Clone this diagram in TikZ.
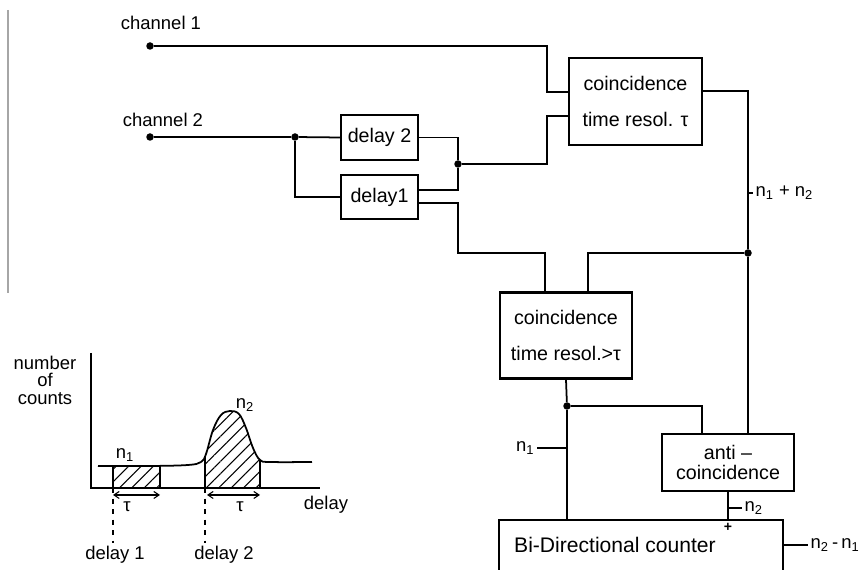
\documentclass[tikz,border=0pt]{standalone}
\usepackage{fontspec}
\setmainfont{Liberation Sans}
\usetikzlibrary{arrows.meta,calc,patterns.meta}
\newcommand{\countcurve}{plot[smooth,tension=0.6] coordinates {(98,466) (150,466)
  (188,465) (201,462) (206,454) (213,430) (221,415) (230,411) (239,414) (246,428)
  (253,448) (260,460) (270,462) (312,462)}}

\begin{document}
\begin{tikzpicture}[
    x=0.02cm, y=-0.02cm,
    >={Straight Barb[length=3pt,width=4pt]},
    font=\fontsize{10.5}{12.5}\selectfont,
    unit/.style={draw,line width=1.2pt,inner sep=0pt,align=center,
      font=\fontsize{11.2}{13}\selectfont},
    wire/.style={line width=1pt},
    dot/.style={circle,fill,inner sep=0pt,minimum size=0.15cm},
    lbl/.style={inner sep=1pt},
    hatched/.style={pattern={Lines[angle=45,distance=5pt,line width=0.6pt]}}
  ]
  \useasboundingbox (0,0) rectangle (863,570);
  \draw[gray!70,line width=0.8pt] (8,10) -- (8,293);

  % inputs
  \node[dot] (ch1) at (150,46) {};
  \node[dot] (ch2) at (150,137) {};
  \node (ch1lbl) at (161,23) {channel 1};
  \node (ch2lbl) at (163,120) {channel 2};

  % units
  \node[unit,minimum width=2.66cm,minimum height=1.74cm] (coinc1) at (635.5,101.5)
    {coincidence\\[7pt]time resol. τ};
  \node[unit,minimum width=1.54cm,minimum height=0.9cm] (delay2) at (379.5,137.5) {delay 2};
  \node[unit,minimum width=1.54cm,minimum height=0.88cm] (delay1) at (379.5,197) {delay1};
  \node[unit,minimum width=2.64cm,minimum height=1.72cm] (coinc2) at (566,335.5)
    {coincidence\\[8pt]time resol.>τ};
  \node[unit,minimum width=2.64cm,minimum height=1.14cm] (anti) at (728,462.5)
    {anti –\\[-2pt]coincidence};
  \node[unit,minimum width=5.68cm,minimum height=1.7cm,anchor=north] (counter) at (641,519) {};
  \node[font=\fontsize{12}{14}\selectfont] (countertxt) at (615,545) {Bi-Directional counter};

  % junctions and ports
  \node[dot] (j2) at (295,137) {};
  \node[dot] (j3) at (458,164) {};
  \node[dot] (j4) at (748,253) {};
  \node[dot] (j5) at (567,406) {};
  \coordinate (c1a) at ($(coinc1.west)+(0,-9.5)$);
  \coordinate (c1b) at ($(coinc1.west)+(0,14.5)$);
  \coordinate (c1out) at ($(coinc1.east)+(0,-10.5)$);
  \coordinate (d1a) at ($(delay1.east)+(0,-7)$);
  \coordinate (d1b) at ($(delay1.east)+(0,6)$);
  \coordinate (c2a) at ($(coinc2.north)+(-21,0)$);
  \coordinate (c2b) at ($(coinc2.north)+(22,0)$);
  \coordinate (aa) at ($(anti.north)+(-26,0)$);

  % wiring
  \draw[wire] (ch1) -- (547,46) |- (c1a);
  \draw[wire] (ch2) -- (j2) -- (delay2.west);
  \draw[wire] (j2) |- (delay1.west);
  \draw[wire] (delay2.east) -| (j3) |- (d1a);
  \draw[wire] (j3) -- (547,164) |- (c1b);
  \draw[wire] (d1b) -| (458,253) -| (c2a);
  \draw[wire] (c1out) -| (j4);
  \draw[wire] (j4) -- (j4 |- anti.north);
  \draw[wire] (j4) -| (c2b);
  \draw[wire] (coinc2.south) -- (j5);
  \draw[wire] (j5) -- (j5 |- counter.north);
  \draw[wire] (j5) -| (aa);
  \draw[wire] (anti.south) -- (anti.south |- counter.north);

  % signal labels
  \draw[wire] (748,193) -- ++(5,0) node[right,lbl] (sumlbl) {n\textsubscript{1} + n\textsubscript{2}};
  \draw[wire] (567,448) -- ++(-30,0) node[left,lbl] (n1lbl) {n\textsubscript{1}};
  \draw[wire] (728,508) -- ++(14,0) node[right,lbl] (n2lbl) {n\textsubscript{2}};
  \node[font=\footnotesize\bfseries] (plus) at (728,527) {+};
  \draw[wire] (counter.east |- 0,545) -- ++(24,0) node[right,lbl] (difflbl)
    {n\textsubscript{2}\,-\,n\textsubscript{1}};

  % delay spectrum
  \node[align=center,font=\fontsize{10.5}{10}\selectfont] (ylbl) at (45,380) {number\\of\\counts};
  \node (xlbl) at (326,505) {delay};
  \begin{scope}
    \clip (205,380) rectangle (260,488);
    \fill[hatched] \countcurve -- (312,488) -- (98,488) -- cycle;
  \end{scope}
  \fill[hatched] (113,466) rectangle (160,488);
  \draw[wire] (113,466) rectangle (160,488);
  \draw[wire] \countcurve;
  \draw[wire] (205,456) -- (205,488) (260,460) -- (260,488);
  \draw[wire] (91,353) -- (91,488) -- (320,488);
  \draw[<->,line width=0.6pt] (113,495) -- (160,495);
  \draw[<->,line width=0.6pt] (207,495) -- (260,495);
  \draw[dashed,line width=0.6pt] (113,488) -- (113,543) (205,488) -- (205,543);
  \node (tau1) at (127,507) {τ};
  \node (tau2) at (240,507) {τ};
  \node (n1pk) at (125,455) {n\textsubscript{1}};
  \node (n2pk) at (245,405) {n\textsubscript{2}};
  \node (d1lbl) at (115,555) {delay 1};
  \node (d2lbl) at (224,555) {delay 2};
\end{tikzpicture}
\end{document}
